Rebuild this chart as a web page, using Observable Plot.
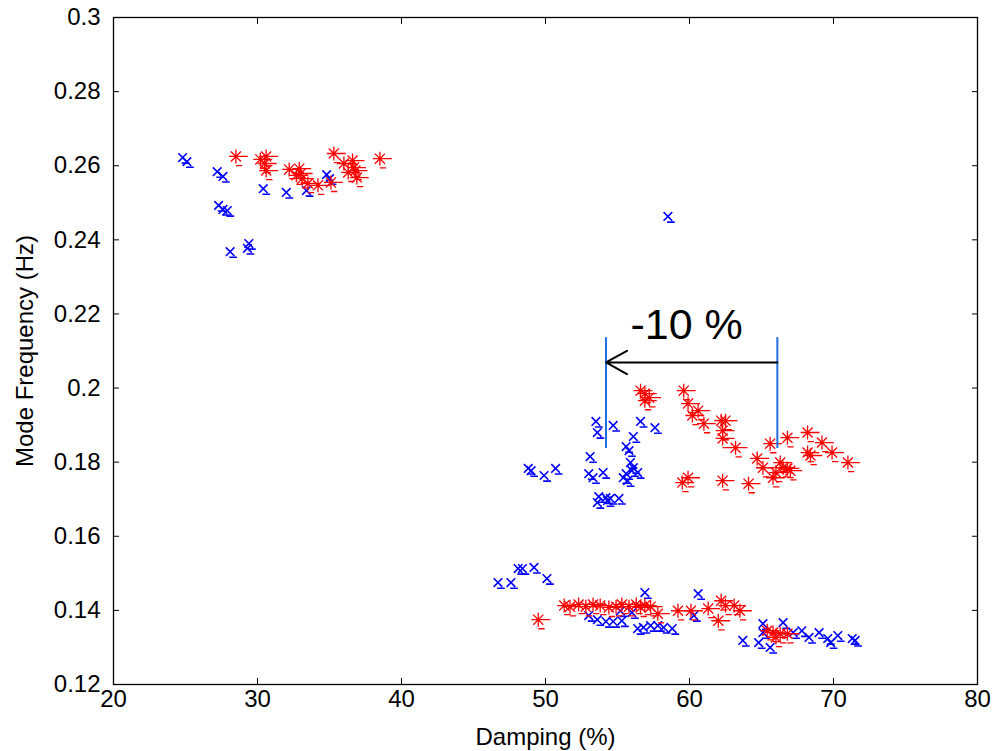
<!DOCTYPE html>
<html><head><meta charset="utf-8">
<script src="https://cdn.jsdelivr.net/npm/d3@7"></script>
<script src="https://cdn.jsdelivr.net/npm/@observablehq/plot@0.6"></script>
<style>body{margin:0;background:#fff} svg{font-family:"Liberation Sans",Arial,sans-serif}</style>
</head><body><div id="chart"></div><script>
// Blue series (x markers): damping (%) and frequency (Hz)
const blueDamping = [24.8,25.1,27.2,27.6,27.3,27.6,27.9,28.1,29.4,29.3,30.4,32.0,33.4,34.8,35.0,58.5,
  53.5,53.6,54.7,56.6,57.6,56.1,55.6,55.8,53.1,55.9,56.1,56.0,56.4,55.6,55.4,55.7,53.0,53.3,54.0,53.7,54.2,54.3,54.5,55.1,53.6,48.8,49.0,49.9,50.7,
  46.7,47.6,48.1,48.4,49.2,50.1,56.9,60.6,53.0,53.6,54.2,54.7,55.3,55.2,56.0,56.4,56.8,57.3,57.8,58.2,58.8,60.3,63.7,64.8,65.6,65.1,66.5,65.1,67.2,67.8,68.3,69.0,69.6,69.8,70.3,71.3,71.5];
const blueFreq = [0.2622,0.2611,0.2584,0.2571,0.2493,0.2482,0.2479,0.2368,0.2390,0.2377,0.2538,0.2528,0.2533,0.2576,0.2565,0.2463,
  0.1910,0.1880,0.1899,0.1910,0.1893,0.1869,0.1842,0.1831,0.1815,0.1799,0.1785,0.1777,0.1772,0.1769,0.1758,0.1750,0.1769,0.1758,0.1772,0.1707,0.1704,0.1696,0.1702,0.1702,0.1691,0.1783,0.1777,0.1764,0.1783,
  0.1475,0.1475,0.1513,0.1513,0.1516,0.1486,0.1448,0.1445,0.1386,0.1375,0.1370,0.1370,0.1372,0.1399,0.1394,0.1351,0.1354,0.1359,0.1359,0.1354,0.1351,0.1386,0.1319,0.1313,0.1300,0.1364,0.1367,0.1340,0.1340,0.1345,0.1327,0.1340,0.1324,0.1313,0.1332,0.1324,0.1319];
// Red series (* markers)
const redDamping = [28.5,30.2,30.6,30.6,30.5,32.2,32.9,33.0,33.1,33.5,34.2,35.1,35.3,36.0,36.7,36.8,36.9,36.3,36.6,32.7,38.5,
  56.6,56.9,57.2,56.9,59.6,59.9,60.6,60.2,61.0,62.2,62.5,62.3,62.3,63.2,64.7,65.1,65.8,65.6,66.8,66.3,66.5,66.8,68.2,69.2,68.2,68.4,69.9,71.0,59.9,59.5,62.3,64.1,66.0,67.0,
  49.5,51.3,51.7,52.3,52.8,53.3,53.8,54.4,54.9,55.3,55.8,56.3,56.6,56.9,57.3,57.8,59.2,60.1,61.3,62.2,62.0,62.5,63.1,63.5,65.4,65.8,66.3,66.8,66.0];
const redFreq = [0.2625,0.2617,0.2625,0.2587,0.2606,0.2590,0.2592,0.2579,0.2565,0.2552,0.2547,0.2555,0.2633,0.2606,0.2595,0.2587,0.2568,0.2582,0.2614,0.2574,0.2619,
  0.1993,0.1985,0.1974,0.1966,0.1993,0.1958,0.1939,0.1926,0.1904,0.1912,0.1912,0.1885,0.1864,0.1839,0.1810,0.1785,0.1758,0.1850,0.1866,0.1799,0.1785,0.1783,0.1880,0.1853,0.1826,0.1818,0.1826,0.1799,0.1758,0.1745,0.1750,0.1742,0.1772,0.1777,
  0.1375,0.1413,0.1410,0.1416,0.1410,0.1416,0.1413,0.1408,0.1410,0.1416,0.1410,0.1416,0.1408,0.1413,0.1410,0.1391,0.1399,0.1399,0.1405,0.1426,0.1372,0.1413,0.1413,0.1399,0.1345,0.1340,0.1337,0.1337,0.1327];

// Annotation values
const bracketDamping = [54.2, 66.1];
const bracketFreq = [0.1837, 0.2136];
const arrowFreq = 0.2069;
const annotationText = "-10 %";
const annotationDamping = 59.8;
const annotationFreq = 0.2169;

const xTicks = [20,30,40,50,60,70,80];
const yTicks = [0.12,0.14,0.16,0.18,0.2,0.22,0.24,0.26,0.28,0.3];

const blue = blueDamping.map((x,i)=>({x, y: blueFreq[i]}));
const red = redDamping.map((x,i)=>({x, y: redFreq[i]}));

const crossDash = {
  draw(ctx, size) {
    const r = Math.sqrt(size/Math.PI);
    ctx.moveTo(-r,-r); ctx.lineTo(r,r);
    ctx.moveTo(-r,r); ctx.lineTo(r,-r);
    ctx.moveTo(-r*0.2, r*1.3); ctx.lineTo(r*1.6, r*1.3);
  }
};
const starDash = {
  draw(ctx, size) {
    const r = Math.sqrt(size/Math.PI);
    const d = r*0.72;
    ctx.moveTo(0,-r); ctx.lineTo(0,r);
    ctx.moveTo(-r,0); ctx.lineTo(r*1.7,0);
    ctx.moveTo(-d,-d); ctx.lineTo(d,d);
    ctx.moveTo(-d,d); ctx.lineTo(d,-d);
    ctx.moveTo(0, r*1.3); ctx.lineTo(r*0.9, r*1.3);
  }
};

const chart = Plot.plot({
  width: 994, height: 751,
  marginLeft: 113, marginRight: 17, marginTop: 17, marginBottom: 67,
  style: {fontFamily: '"Liberation Sans", Arial, sans-serif', fontSize: "24px", color: "#000", background: "#fff"},
  x: {domain: [20, 80]},
  y: {domain: [0.12, 0.3]},
  marks: [
    Plot.frame({stroke: "#000", strokeWidth: 1.3}),
    Plot.axisX(xTicks, {anchor: "bottom", tickSize: -6, tickPadding: 11, fontSize: 24,
      label: "Damping (%)", labelAnchor: "center", labelArrow: "none", labelOffset: 60}),
    Plot.axisY(yTicks, {anchor: "left", tickSize: -6, tickPadding: 19, fontSize: 24,
      tickFormat: d => String(+d.toFixed(2)),
      label: "Mode Frequency (Hz)", labelAnchor: "center", labelArrow: "none", labelOffset: 98}),
    Plot.axisX(xTicks, {anchor: "top", tickSize: -6, text: null, label: null}),
    Plot.axisY(yTicks, {anchor: "right", tickSize: -6, text: null, label: null}),
    Plot.dot(blue, {x: "x", y: "y", symbol: crossDash, r: 4.3, stroke: "#0000ff", strokeWidth: 1.6, fill: "none"}),
    Plot.dot(red, {x: "x", y: "y", symbol: starDash, r: 7, stroke: "#ff0000", strokeWidth: 1.3, fill: "none"}),
    Plot.ruleX(bracketDamping, {y1: bracketFreq[0], y2: bracketFreq[1], stroke: "#1f6fe0", strokeWidth: 2}),
    Plot.arrow([{x1: bracketDamping[1], x2: bracketDamping[0], y: arrowFreq}], {x1: "x1", x2: "x2", y1: "y", y2: "y",
      stroke: "#000", strokeWidth: 2, headLength: 18, headAngle: 58}),
    Plot.text([annotationText], {x: annotationDamping, y: annotationFreq, text: d => d, fontSize: 43, fill: "#000"})
  ]
});
document.getElementById("chart").appendChild(chart);
</script></body></html>
